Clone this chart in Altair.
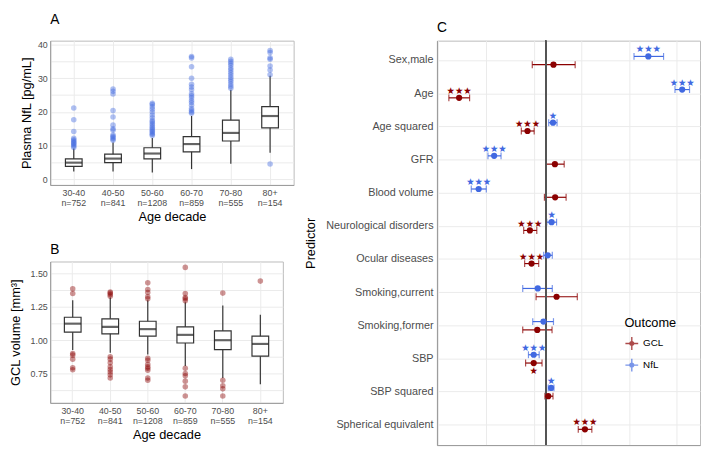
import altair as alt
import pandas as pd
import numpy as np

# ---------------- data ----------------
decades = ["30-40", "40-50", "50-60", "60-70", "70-80", "80+"]
n_obs = [752, 841, 1208, 859, 555, 154]

nfl_wlo = [2.4, 2.4, 2.1, 3.1, 4.7, 7.9]
nfl_q1 = [3.9, 5.0, 6.1, 8.2, 11.4, 15.3]
nfl_med = [5.0, 6.2, 7.7, 10.5, 13.8, 18.8]
nfl_q3 = [6.1, 7.5, 9.4, 12.7, 17.6, 21.6]
nfl_whi = [9.2, 11.0, 12.3, 18.8, 26.6, 30.7]
nfl_out = {
    "30-40": [9.5, 9.9, 10.3, 10.7, 11.0, 11.4, 11.8, 12.2, 14.2, 17.7, 21.2],
    "40-50": [11.6, 12.0, 12.4, 12.8, 13.2, 14.6, 15.0, 16.1, 18.5, 20.4, 25.3, 26.1, 26.8],
    "50-60": [13.0, 13.4, 13.8, 14.2, 14.6, 15.0, 15.5, 16.0, 16.5, 17.0, 17.5, 18.3,
              19.1, 20.0, 20.8, 21.5, 22.2, 22.6],
    "60-70": [19.6, 20.0, 20.5, 21.0, 22.0, 22.8, 23.4, 24.2, 24.8, 25.4, 26.6, 27.4,
              28.2, 30.0, 33.4, 36.0, 36.4],
    "70-80": [27.0, 27.6, 28.3, 29.0, 29.6, 30.3, 31.0, 31.7, 32.4, 33.0, 33.8, 34.4,
              35.0, 35.6],
    "80+": [4.6, 31.0, 32.4, 33.6, 35.6, 36.0, 37.6, 38.2],
}

gcl_wlo = [0.927, 0.906, 0.892, 0.807, 0.716, 0.67]
gcl_q1 = [1.060, 1.048, 1.03, 0.979, 0.929, 0.88]
gcl_med = [1.124, 1.10, 1.083, 1.04, 1.0, 0.972]
gcl_q3 = [1.172, 1.16, 1.142, 1.10, 1.07, 1.03]
gcl_whi = [1.30, 1.32, 1.30, 1.284, 1.26, 1.19]
gcl_out = {
    "30-40": [1.385, 1.35, 0.90, 0.888, 0.858, 0.794, 0.778],
    "40-50": [1.362, 1.353, 1.342, 1.33, 0.876, 0.858, 0.83, 0.80, 0.78, 0.761, 0.74, 0.716],
    "50-60": [1.43, 1.38, 1.358, 1.325, 1.31, 0.865, 0.85, 0.82, 0.80, 0.79, 0.775, 0.716, 0.70],
    "60-70": [1.546, 1.35, 1.32, 1.31, 1.295, 0.79, 0.75, 0.734, 0.693, 0.65, 0.582],
    "70-80": [1.353, 0.70, 0.658, 0.635, 0.582],
    "80+": [1.443],
}

predictors = ["Sex,male", "Age", "Age squared", "GFR", "Blood volume",
              "Neurological disorders", "Ocular diseases", "Smoking,current",
              "Smoking,former", "SBP", "SBP squared", "Spherical equivalent"]
gcl_est = [0.033, -0.363, -0.076, 0.039, 0.040, -0.066, -0.059, 0.046, -0.035, -0.050, 0.011, 0.165]
gcl_lo = [-0.056, -0.406, -0.102, 0.000, -0.005, -0.092, -0.088, -0.040, -0.096, -0.084, -0.003, 0.137]
gcl_hi = [0.124, -0.319, -0.048, 0.078, 0.086, -0.037, -0.029, 0.133, 0.027, -0.015, 0.031, 0.194]
gcl_sig = ["", "***", "***", "", "", "***", "***", "", "", "*", "", "***"]
gcl_side = ["above"] * 9 + ["below", "above", "above"]
nfl_est = [0.431, 0.573, 0.031, -0.216, -0.281, 0.025, 0.009, -0.033, -0.009, -0.050, 0.023, None]
nfl_lo = [0.371, 0.543, 0.013, -0.242, -0.312, 0.005, -0.008, -0.096, -0.054, -0.072, 0.011, None]
nfl_hi = [0.495, 0.604, 0.048, -0.187, -0.249, 0.046, 0.028, 0.028, 0.033, -0.027, 0.035, None]
nfl_sig = ["***", "***", "*", "***", "***", "*", "", "", "", "***", "*", ""]
nfl_side = ["above"] * 12

# ---------------- tables ----------------
labels = [f"{d} n={n}" for d, n in zip(decades, n_obs)]
lab_of = dict(zip(decades, labels))

boxA = pd.DataFrame({"lab": labels, "wlo": nfl_wlo, "q1": nfl_q1, "med": nfl_med,
                     "q3": nfl_q3, "whi": nfl_whi})
outA = pd.DataFrame([{"lab": lab_of[d], "v": v} for d in decades for v in nfl_out[d]])
boxB = pd.DataFrame({"lab": labels, "wlo": gcl_wlo, "q1": gcl_q1, "med": gcl_med,
                     "q3": gcl_q3, "whi": gcl_whi})
outB = pd.DataFrame([{"lab": lab_of[d], "v": v} for d in decades for v in gcl_out[d]])

rows = []
for i, p in enumerate(predictors):
    rows.append({"Predictor": p, "Outcome": "GCL", "est": gcl_est[i], "lo": gcl_lo[i],
                 "hi": gcl_hi[i], "sig": gcl_sig[i], "side": gcl_side[i]})
    if nfl_est[i] is not None:
        rows.append({"Predictor": p, "Outcome": "NfL", "est": nfl_est[i], "lo": nfl_lo[i],
                     "hi": nfl_hi[i], "sig": nfl_sig[i], "side": nfl_side[i]})
dfC = pd.DataFrame(rows)

FONT = "Liberation Sans"
LAB = "#4d4d4d"
DARKRED = "#8b0000"
BLUE = "#4169e1"


def box_panel(box, out, color, ydom, yvals, ylabexpr, ytitle, title_text, w, h, tpad, toff):
    xenc = alt.X("lab:N", sort=labels,
                 scale=alt.Scale(paddingInner=0, paddingOuter=0.1),
                 axis=alt.Axis(title="Age decade", labelExpr="split(datum.label, ' ')",
                               labelAngle=0, grid=True, bandPosition=0.5, ticks=False,
                               labelFontSize=9, labelLineHeight=10, labelPadding=4,
                               titlePadding=3))
    yscale = alt.Scale(domain=ydom, nice=False, zero=False)
    yaxis = alt.Axis(title=ytitle, values=yvals, labelExpr=ylabexpr, ticks=False,
                     labelFontSize=9, grid=True, labelPadding=3, titlePadding=tpad)
    base = alt.Chart(box)
    whisk = base.mark_rule(color="#333333", strokeWidth=1.2).encode(
        x=xenc, y=alt.Y("wlo:Q", scale=yscale, axis=yaxis), y2="whi:Q")
    bx = base.mark_bar(size=17, fill="white", stroke="#333333", strokeWidth=1.2).encode(
        x=xenc, y=alt.Y("q1:Q", scale=yscale, axis=yaxis), y2="q3:Q")
    med = base.mark_tick(size=17, thickness=2.2, color="#222222").encode(
        x=xenc, y=alt.Y("med:Q", scale=yscale, axis=yaxis))
    pts = alt.Chart(out).mark_circle(size=32, opacity=0.42, color=color).encode(
        x=xenc, y=alt.Y("v:Q", scale=yscale, axis=yaxis))
    return alt.layer(whisk, bx, med, pts).properties(
        width=w, height=h,
        title=alt.TitleParams(title_text, anchor="start", frame="group", fontSize=14,
                              fontWeight="normal", font=FONT, offset=toff))


A = box_panel(boxA, outA, BLUE, [-1.6, 41.1], list(range(0, 41, 5)),
              "datum.value % 10 == 0 ? datum.label : ''", "Plasma NfL [pg/mL]",
              "A", 248, 147, 4, 14)
B = box_panel(boxB, outB, DARKRED, [0.53, 1.59],
              [0.625, 0.75, 0.875, 1.0, 1.125, 1.25, 1.375, 1.5],
              "abs(datum.value*4 - round(datum.value*4)) < 0.001 ? format(datum.value, '.2f') : ''",
              "GCL volume [mm³]", "B", 237, 144, 8, 5)

# ---------------- panel C ----------------
xC_vals = [round(v, 2) for v in np.arange(-0.45, 0.651, 0.05)]
xC = alt.Scale(domain=[-0.456, 0.648], nice=False, zero=False)
xC_axis = alt.Axis(title=None, values=xC_vals, ticks=False, labelFontSize=10, grid=True,
                   labelPadding=4,
                   labelExpr="abs(datum.value*5 - round(datum.value*5)) < 0.001 ? replace(format(datum.value, '.1f'), '\u2212', '-') : ''")
yC = alt.Y("Predictor:N", sort=predictors,
           scale=alt.Scale(paddingInner=0, paddingOuter=0.1),
           axis=alt.Axis(title="Predictor", grid=True, bandPosition=0.5, ticks=False,
                         labelFontSize=11, labelPadding=4, titlePadding=8))
yOff = alt.YOffset("Outcome:N", scale=alt.Scale(domain=["NfL", "GCL"], paddingInner=0,
                                                paddingOuter=1))
legend_path = ("M-1,0L1,0M0,-1L0,1"
               "M-0.3,0A0.3,0.3,0,1,1,0.3,0A0.3,0.3,0,1,1,-0.3,0Z"
               "M-0.12,0A0.12,0.12,0,1,1,0.12,0A0.12,0.12,0,1,1,-0.12,0Z")
col = alt.Color("Outcome:N", scale=alt.Scale(domain=["GCL", "NfL"], range=[DARKRED, BLUE]),
                legend=alt.Legend(title="Outcome", orient="none", legendX=191, legendY=282,
                                  symbolType=legend_path, symbolSize=170,
                                  symbolStrokeWidth=1.4, titleFontSize=13,
                                  titleFontWeight="normal", titleColor="black",
                                  labelFontSize=10, labelColor="black", rowPadding=3,
                                  titlePadding=6))

baseC = alt.Chart(dfC)
zero = alt.Chart(dfC).mark_rule(color="#555555", strokeWidth=1.2).encode(x=alt.datum(0, scale=xC))
rule = baseC.mark_rule(strokeWidth=1.2).encode(
    x=alt.X("lo:Q", scale=xC, axis=xC_axis), x2="hi:Q", y=yC, yOffset=yOff, color=col)
tlo = baseC.mark_tick(orient="vertical", size=7, thickness=1.2).encode(
    x=alt.X("lo:Q", scale=xC, axis=xC_axis), y=yC, yOffset=yOff, color=col)
thi = baseC.mark_tick(orient="vertical", size=7, thickness=1.2).encode(
    x=alt.X("hi:Q", scale=xC, axis=xC_axis), y=yC, yOffset=yOff, color=col)
pt = baseC.mark_circle(size=40, opacity=1).encode(
    x=alt.X("est:Q", scale=xC, axis=xC_axis), y=yC, yOffset=yOff, color=col)
st_up = baseC.transform_filter("datum.side == 'above'").mark_text(
    dy=-7, font="DejaVu Sans", fontSize=9.5, baseline="middle").encode(
    x=alt.X("est:Q", scale=xC, axis=xC_axis), y=yC, yOffset=yOff, color=col,
    text="sig:N")
st_dn = baseC.transform_filter("datum.side == 'below'").mark_text(
    dy=8, font="DejaVu Sans", fontSize=9.5, baseline="middle").encode(
    x=alt.X("est:Q", scale=xC, axis=xC_axis), y=yC, yOffset=yOff, color=col,
    text="sig:N")

C = alt.layer(rule, tlo, thi, zero, pt, st_up, st_dn).transform_calculate(
    sig="replace(datum.sig, /\\*/g, '\u2605')"
).properties(
    width=268, height=412,
    title=alt.TitleParams("C", anchor="start", frame="group", fontSize=14,
                          fontWeight="normal", font=FONT, offset=5))

left = alt.concat(A, B, columns=1, spacing=18, align="none")
chart = alt.hconcat(left, C, spacing=10).resolve_legend(color="independent").properties(
    padding=0, background="white"
).configure_view(stroke="#bbbbbb", strokeWidth=1).configure_axis(
    labelFont=FONT, titleFont=FONT, labelColor=LAB, titleColor="black",
    titleFontSize=13, titleFontWeight="normal", gridColor="#ebebeb", gridWidth=1,
    domainColor="#9a9a9a", domainWidth=1
).configure_legend(labelFont=FONT, titleFont=FONT)

chart.save("out.html", embed_options={"renderer": "svg", "actions": False})
